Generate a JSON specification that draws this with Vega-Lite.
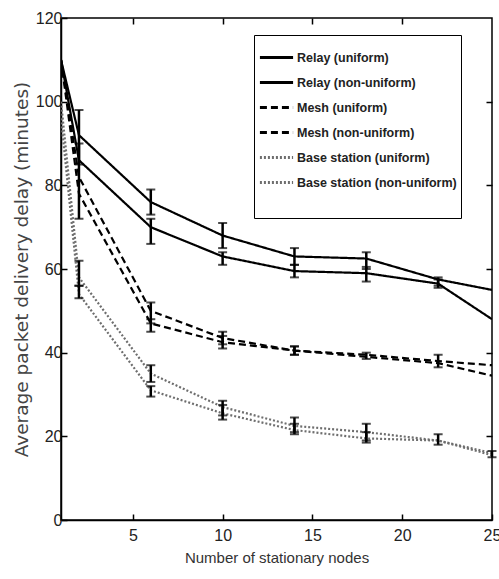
{
  "$schema": "https://vega.github.io/schema/vega-lite/v6.json",
  "width": 431,
  "height": 502,
  "autosize": "none",
  "padding": {"left": 61, "top": 18, "right": 7, "bottom": 59},
  "background": "white",
  "config": {
    "view": {"stroke": "black", "strokeWidth": 1.5},
    "axis": {
      "grid": false,
      "domainColor": "black",
      "domainWidth": 1.5,
      "tickColor": "black",
      "tickWidth": 1.5,
      "tickSize": -6,
      "labelFont": "Liberation Sans",
      "labelFontSize": 16,
      "labelColor": "#222",
      "titleFont": "Liberation Sans",
      "titleFontWeight": "normal",
      "titleColor": "#333"
    }
  },
  "datasets": {
    "lines": [
      {"series": "Relay (uniform)", "x": 1, "y": 110},
      {"series": "Relay (uniform)", "x": 2, "y": 92},
      {"series": "Relay (uniform)", "x": 6, "y": 76},
      {"series": "Relay (uniform)", "x": 10, "y": 68},
      {"series": "Relay (uniform)", "x": 14, "y": 63},
      {"series": "Relay (uniform)", "x": 18, "y": 62.5},
      {"series": "Relay (uniform)", "x": 22, "y": 57.5},
      {"series": "Relay (uniform)", "x": 25, "y": 55},
      {"series": "Relay (non-uniform)", "x": 1, "y": 110},
      {"series": "Relay (non-uniform)", "x": 2, "y": 86},
      {"series": "Relay (non-uniform)", "x": 6, "y": 70},
      {"series": "Relay (non-uniform)", "x": 10, "y": 63},
      {"series": "Relay (non-uniform)", "x": 14, "y": 59.5},
      {"series": "Relay (non-uniform)", "x": 18, "y": 59},
      {"series": "Relay (non-uniform)", "x": 22, "y": 56.5},
      {"series": "Relay (non-uniform)", "x": 25, "y": 48},
      {"series": "Mesh (uniform)", "x": 1, "y": 110},
      {"series": "Mesh (uniform)", "x": 2, "y": 82},
      {"series": "Mesh (uniform)", "x": 6, "y": 50},
      {"series": "Mesh (uniform)", "x": 10, "y": 43.5},
      {"series": "Mesh (uniform)", "x": 14, "y": 40.5},
      {"series": "Mesh (uniform)", "x": 18, "y": 39.5},
      {"series": "Mesh (uniform)", "x": 22, "y": 38},
      {"series": "Mesh (uniform)", "x": 25, "y": 37},
      {"series": "Mesh (non-uniform)", "x": 1, "y": 110},
      {"series": "Mesh (non-uniform)", "x": 2, "y": 78},
      {"series": "Mesh (non-uniform)", "x": 6, "y": 47},
      {"series": "Mesh (non-uniform)", "x": 10, "y": 42.5},
      {"series": "Mesh (non-uniform)", "x": 14, "y": 40.5},
      {"series": "Mesh (non-uniform)", "x": 18, "y": 39},
      {"series": "Mesh (non-uniform)", "x": 22, "y": 37.5},
      {"series": "Mesh (non-uniform)", "x": 25, "y": 34.5},
      {"series": "Base station (uniform)", "x": 1, "y": 100},
      {"series": "Base station (uniform)", "x": 2, "y": 58},
      {"series": "Base station (uniform)", "x": 6, "y": 35},
      {"series": "Base station (uniform)", "x": 10, "y": 27},
      {"series": "Base station (uniform)", "x": 14, "y": 22.5},
      {"series": "Base station (uniform)", "x": 18, "y": 21},
      {"series": "Base station (uniform)", "x": 22, "y": 19},
      {"series": "Base station (uniform)", "x": 25, "y": 16},
      {"series": "Base station (non-uniform)", "x": 1, "y": 96},
      {"series": "Base station (non-uniform)", "x": 2, "y": 54},
      {"series": "Base station (non-uniform)", "x": 6, "y": 31},
      {"series": "Base station (non-uniform)", "x": 10, "y": 25.5},
      {"series": "Base station (non-uniform)", "x": 14, "y": 21.5},
      {"series": "Base station (non-uniform)", "x": 18, "y": 19.5},
      {"series": "Base station (non-uniform)", "x": 22, "y": 19},
      {"series": "Base station (non-uniform)", "x": 25, "y": 15.5}
    ],
    "errs": [
      {"series": "Relay (uniform)", "x": 2, "lo": 85, "hi": 98},
      {"series": "Relay (uniform)", "x": 6, "lo": 73, "hi": 79},
      {"series": "Relay (uniform)", "x": 10, "lo": 65, "hi": 71},
      {"series": "Relay (uniform)", "x": 14, "lo": 61, "hi": 65},
      {"series": "Relay (uniform)", "x": 18, "lo": 60, "hi": 64},
      {"series": "Relay (uniform)", "x": 22, "lo": 56, "hi": 58},
      {"series": "Relay (non-uniform)", "x": 2, "lo": 72, "hi": 90},
      {"series": "Relay (non-uniform)", "x": 6, "lo": 66, "hi": 72},
      {"series": "Relay (non-uniform)", "x": 10, "lo": 61, "hi": 64},
      {"series": "Relay (non-uniform)", "x": 14, "lo": 58, "hi": 61},
      {"series": "Relay (non-uniform)", "x": 18, "lo": 57, "hi": 60.5},
      {"series": "Relay (non-uniform)", "x": 22, "lo": 55.5, "hi": 57.5},
      {"series": "Mesh (uniform)", "x": 6, "lo": 47, "hi": 52},
      {"series": "Mesh (uniform)", "x": 10, "lo": 42, "hi": 45},
      {"series": "Mesh (uniform)", "x": 14, "lo": 39.5, "hi": 41.5},
      {"series": "Mesh (uniform)", "x": 18, "lo": 38.5, "hi": 40},
      {"series": "Mesh (uniform)", "x": 22, "lo": 36.5, "hi": 39.5},
      {"series": "Mesh (non-uniform)", "x": 6, "lo": 45, "hi": 48},
      {"series": "Mesh (non-uniform)", "x": 10, "lo": 41, "hi": 44},
      {"series": "Mesh (non-uniform)", "x": 14, "lo": 39.5, "hi": 41.5},
      {"series": "Base station (uniform)", "x": 2, "lo": 56, "hi": 62},
      {"series": "Base station (uniform)", "x": 6, "lo": 33, "hi": 37},
      {"series": "Base station (uniform)", "x": 10, "lo": 25, "hi": 28.5},
      {"series": "Base station (uniform)", "x": 14, "lo": 21, "hi": 24.5},
      {"series": "Base station (uniform)", "x": 18, "lo": 19, "hi": 23},
      {"series": "Base station (uniform)", "x": 22, "lo": 18, "hi": 20.5},
      {"series": "Base station (non-uniform)", "x": 2, "lo": 53, "hi": 56},
      {"series": "Base station (non-uniform)", "x": 6, "lo": 29.5, "hi": 32},
      {"series": "Base station (non-uniform)", "x": 10, "lo": 24, "hi": 27.5},
      {"series": "Base station (non-uniform)", "x": 14, "lo": 20.5, "hi": 23},
      {"series": "Base station (non-uniform)", "x": 18, "lo": 18.5, "hi": 21},
      {"series": "Base station (non-uniform)", "x": 25, "lo": 15, "hi": 16.5}
    ]
  },
  "layer": [
    {
      "data": {"name": "lines"},
      "mark": {"type": "line", "strokeWidth": 2.2, "clip": true},
      "encoding": {
        "x": {
          "field": "x", "type": "quantitative",
          "scale": {"domain": [1, 25], "nice": false, "zero": false},
          "axis": {"orient": "bottom", "values": [5, 10, 15, 20, 25], "title": "Number of stationary nodes", "titleFontSize": 15, "titlePadding": 7, "labelPadding": 13, "labelFlush": false}
        },
        "y": {
          "field": "y", "type": "quantitative",
          "scale": {"domain": [0, 120], "nice": false},
          "axis": {"orient": "left", "values": [0, 20, 40, 60, 80, 100, 120], "title": "Average packet delivery delay (minutes)", "titleFont": "DejaVu Sans", "titleFontSize": 18.5, "titleColor": "#444", "titlePadding": 4, "labelPadding": 5}
        },
        "color": {
          "field": "series", "type": "nominal",
          "scale": {
            "domain": ["Relay (uniform)", "Relay (non-uniform)", "Mesh (uniform)", "Mesh (non-uniform)", "Base station (uniform)", "Base station (non-uniform)", " "],
            "range": ["black", "black", "black", "black", "#6e6e6e", "#6e6e6e", "white"]
          },
          "legend": {
            "title": null,
            "orient": "none",
            "legendX": 193,
            "legendY": 17,
            "padding": 4,
            "strokeColor": "black",
            "fillColor": "white",
            "labelFont": "Liberation Sans",
            "labelFontSize": 12.5,
            "labelFontWeight": "bold",
            "labelColor": "#222",
            "symbolType": "stroke",
            "symbolSize": 1100,
            "symbolStrokeWidth": 3,
            "rowPadding": 0,
            "labelOffset": 2,
            "labelLimit": 300
          }
        },
        "strokeDash": {
          "field": "series", "type": "nominal",
          "scale": {
            "domain": ["Relay (uniform)", "Relay (non-uniform)", "Mesh (uniform)", "Mesh (non-uniform)", "Base station (uniform)", "Base station (non-uniform)", " "],
            "range": [[1, 0], [1, 0], [7, 4], [7, 4], [2, 2], [2, 2], [1, 0]]
          },
          "legend": {
            "title": null,
            "orient": "none",
            "legendX": 193,
            "legendY": 17,
            "padding": 4,
            "strokeColor": "black",
            "fillColor": "white",
            "labelFont": "Liberation Sans",
            "labelFontSize": 12.5,
            "labelFontWeight": "bold",
            "labelColor": "#222",
            "symbolType": "stroke",
            "symbolSize": 1100,
            "symbolStrokeWidth": 3,
            "rowPadding": 0,
            "labelOffset": 2,
            "labelLimit": 300
          }
        }
      }
    },
    {
      "data": {"name": "errs"},
      "mark": {"type": "rule", "color": "black", "strokeWidth": 2.5},
      "encoding": {
        "x": {"field": "x", "type": "quantitative", "axis": {"orient": "top", "labels": false, "title": null, "values": [5, 10, 15, 20], "domain": false}},
        "y": {"field": "lo", "type": "quantitative", "axis": {"orient": "right", "labels": false, "title": null, "values": [20, 40, 60, 80, 100], "domain": false}},
        "y2": {"field": "hi"}
      }
    },
    {
      "data": {"name": "errs"},
      "mark": {"type": "tick", "orient": "horizontal", "color": "black", "size": 9, "thickness": 2},
      "encoding": {
        "x": {"field": "x", "type": "quantitative", "axis": null},
        "y": {"field": "lo", "type": "quantitative", "axis": null}
      }
    },
    {
      "data": {"name": "errs"},
      "mark": {"type": "tick", "orient": "horizontal", "color": "black", "size": 9, "thickness": 2},
      "encoding": {
        "x": {"field": "x", "type": "quantitative", "axis": null},
        "y": {"field": "hi", "type": "quantitative", "axis": null}
      }
    }
  ],
  "resolve": {"axis": {"x": "independent", "y": "independent"}}
}
